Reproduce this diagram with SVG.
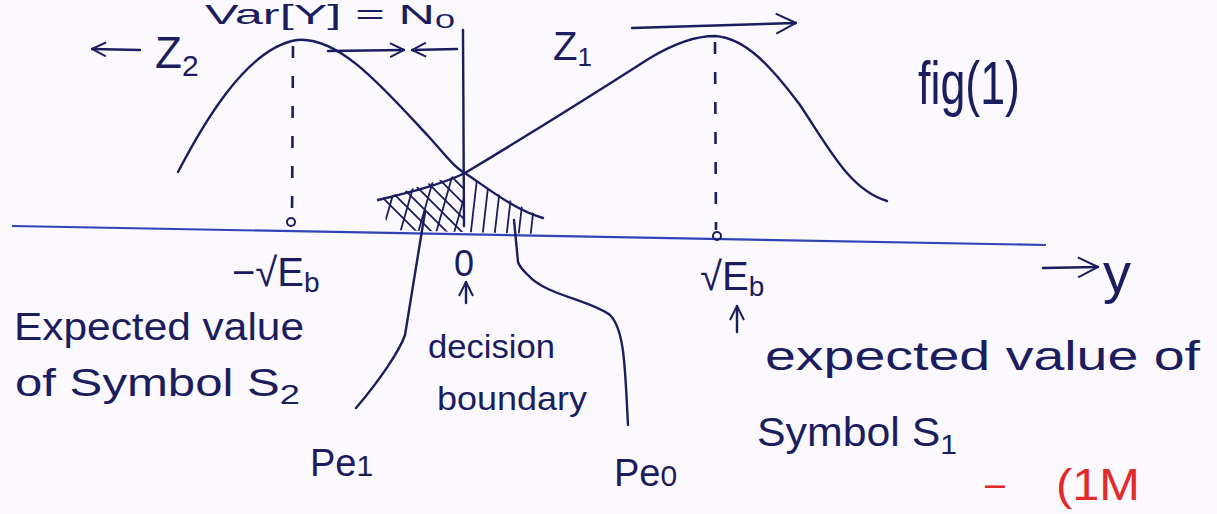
<svg xmlns="http://www.w3.org/2000/svg" width="1217" height="514" viewBox="0 0 1217 514">
<defs>
<style>
.ink{fill:none;stroke:#1b1d5e;stroke-width:2.4;stroke-linecap:round;stroke-linejoin:round}
.thin{fill:none;stroke:#1b1d5e;stroke-width:1.8;stroke-linecap:round}
.dash{fill:none;stroke:#1b1d5e;stroke-width:2.6;stroke-dasharray:12 18}
.axis{fill:none;stroke:#3342b8;stroke-width:2.2}
.t{font-family:"Liberation Sans",Arial,sans-serif;fill:#1b1d5e}
.red{font-family:"Liberation Sans",Arial,sans-serif;fill:#e22a2a}
</style>
<marker id="arr" viewBox="0 0 16 16" refX="15" refY="8" markerWidth="16" markerHeight="16" markerUnits="userSpaceOnUse" orient="auto">
<path d="M1,1 L15,8 L1,15" fill="none" stroke="#1b1d5e" stroke-width="2"/>
</marker>
<marker id="arrBig" viewBox="0 0 22 22" refX="21" refY="11" markerWidth="22" markerHeight="22" markerUnits="userSpaceOnUse" orient="auto">
<path d="M1,1 L21,11 L1,21" fill="none" stroke="#1b1d5e" stroke-width="2"/>
</marker>
<clipPath id="hatchL"><polygon points="378,200 420,186 465,173 463,232 390,230"/></clipPath>
<clipPath id="hatchR"><polygon points="463,173 500,195 543,218 543,234 463,232"/></clipPath>
</defs>
<rect width="1217" height="514" fill="#fbf9fd"/>

<!-- heading -->
<text class="t" x="205" y="24" font-size="28" textLength="250" lengthAdjust="spacingAndGlyphs">Var[Y] = N<tspan font-size="20" dy="4">0</tspan></text>

<g id="axis">
<path class="axis" d="M12,226 L1046,245"/>
</g>

<g id="curves">
<path class="ink" d="M178,172 C200,130 245,48 297,40 C340,36 385,90 430,138 C445,155 455,168 465,173 C490,190 515,210 543,218"/>
<path class="ink" d="M378,200 C410,192 440,185 465,173 C520,140 600,90 650,58 C680,40 700,36 715,36 C745,38 770,65 800,105 C830,150 850,190 887,201"/>
</g>

<g id="hatching">
<g clip-path="url(#hatchL)" class="thin">
<path d="M370,170 L440,240 M385,170 L455,240 M400,170 L470,240 M415,170 L485,240 M430,170 L500,240 M445,170 L515,240 M355,170 L425,240"/>
<path d="M400,170 L380,240 M418,170 L398,240 M436,170 L416,240 M454,170 L434,240 M472,170 L452,240 M490,170 L470,240"/>
</g>
<g clip-path="url(#hatchR)" class="thin">
<path d="M478,170 L470,240 M490,170 L482,240 M502,170 L494,240 M514,170 L506,240 M526,170 L518,240 M538,170 L530,240"/>
</g>
</g>

<g id="boundary">
<path class="ink" d="M463,30 L464,226"/>
</g>

<g id="dashed">
<path class="dash" d="M293,46 L292,218"/>
<path class="dash" d="M715,42 L716,230"/>
<circle cx="291" cy="222" r="4" fill="none" stroke="#1b1d5e" stroke-width="2"/>
<circle cx="717" cy="236" r="4" fill="none" stroke="#1b1d5e" stroke-width="2"/>
</g>

<g id="connectors">
<path class="ink" d="M140,50 L92,49" marker-end="url(#arr)"/>
<path class="ink" d="M328,51 L404,50" marker-end="url(#arr)"/>
<path class="ink" d="M457,49 L412,50" marker-end="url(#arr)"/>
<path class="ink" d="M632,28 L796,23" marker-end="url(#arrBig)"/>
<path class="ink" d="M466,303 L466,282" marker-end="url(#arr)"/>
<path class="ink" d="M737,332 L737,306" marker-end="url(#arr)"/>
<path class="ink" d="M1043,268 L1098,267" marker-end="url(#arrBig)"/>
<path class="ink" d="M356,408 C380,380 400,350 405,335 L425,212"/>
<path class="ink" d="M514,220 L518,262 C520,268 525,272 528,275 C545,295 590,300 610,315 C625,330 625,370 628,425"/>
</g>

<g id="labels">
<text class="t" x="155" y="68" font-size="44">Z<tspan font-size="30" dy="8">2</tspan></text>
<text class="t" x="553" y="60" font-size="40">Z<tspan font-size="26" dy="6">1</tspan></text>
<text class="t" x="918" y="104" font-size="62" textLength="102" lengthAdjust="spacingAndGlyphs">fig(1)</text>
<text class="t" x="232" y="286" font-size="40">−√E<tspan font-size="28" dy="6">b</tspan></text>
<text class="t" x="454" y="276" font-size="36">0</text>
<text class="t" x="700" y="290" font-size="40">√E<tspan font-size="28" dy="6">b</tspan></text>
<text class="t" x="1103" y="292" font-size="56">y</text>
<text class="t" x="14" y="340" font-size="38" textLength="290" lengthAdjust="spacingAndGlyphs">Expected value</text>
<text class="t" x="15" y="396" font-size="38" textLength="285" lengthAdjust="spacingAndGlyphs">of Symbol S<tspan font-size="28" dy="8">2</tspan></text>
<text class="t" x="428" y="358" font-size="34" textLength="127" lengthAdjust="spacingAndGlyphs">decision</text>
<text class="t" x="437" y="410" font-size="34" textLength="150" lengthAdjust="spacingAndGlyphs">boundary</text>
<text class="t" x="765" y="370" font-size="40" textLength="435" lengthAdjust="spacingAndGlyphs">expected value of</text>
<text class="t" x="757" y="446" font-size="40" textLength="200" lengthAdjust="spacingAndGlyphs">Symbol S<tspan font-size="28" dy="8">1</tspan></text>
<text class="t" x="310" y="476" font-size="38">Pe<tspan font-size="30">1</tspan></text>
<text class="t" x="614" y="486" font-size="38">Pe<tspan font-size="30">0</tspan></text>
<text class="red" x="985" y="496" font-size="36">–</text>
<text class="red" x="1056" y="500" font-size="44" textLength="84" lengthAdjust="spacingAndGlyphs">(1M</text>
</g>
</svg>
